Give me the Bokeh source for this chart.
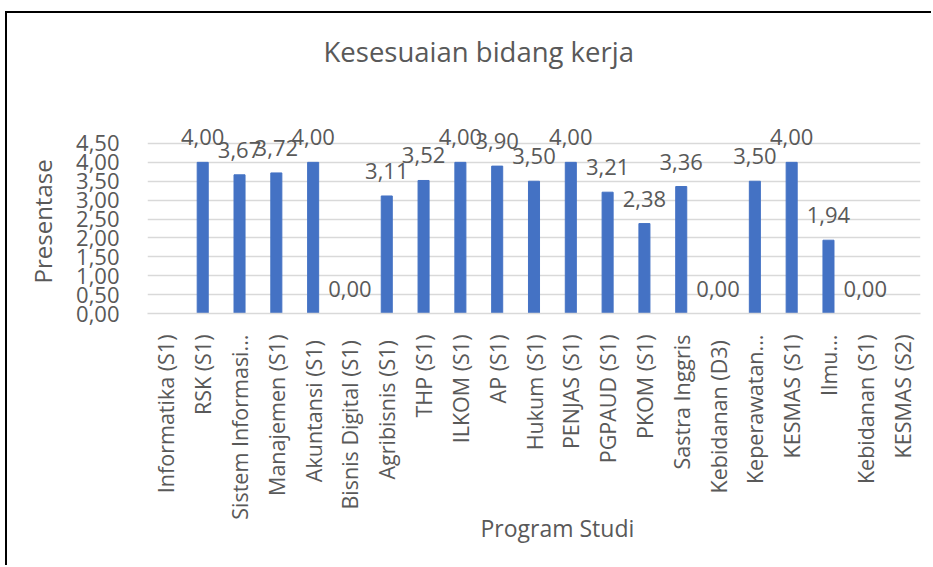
import math
from bokeh.plotting import figure
from bokeh.models import ColumnDataSource, FixedTicker, Title
from bokeh.core.properties import value
from bokeh.embed import file_html
from bokeh.resources import INLINE

categories = ["Informatika (S1)", "RSK (S1)", "Sistem Informasi...", "Manajemen (S1)",
              "Akuntansi  (S1)", "Bisnis Digital  (S1)", "Agribisnis  (S1)", "THP (S1)",
              "ILKOM (S1)", "AP (S1)", "Hukum (S1)", "PENJAS (S1)", "PGPAUD (S1)",
              "PKOM (S1)", "Sastra Inggris", "Kebidanan  (D3)", "Keperawatan...",
              "KESMAS (S1)", "Ilmu...", "Kebidanan (S1)", "KESMAS (S2)"]
values = [float("nan"), 4.00, 3.67, 3.72, 4.00, 0.00, 3.11, 3.52, 4.00, 3.90, 3.50,
          4.00, 3.21, 2.38, 3.36, 0.00, 3.50, 4.00, 1.94, 0.00, float("nan")]
y_ticks = [0.0, 0.5, 1.0, 1.5, 2.0, 2.5, 3.0, 3.5, 4.0, 4.5]
y_tick_labels = ["0,00", "0,50", "1,00", "1,50", "2,00", "2,50", "3,00", "3,50", "4,00", "4,50"]
title_text = "Kesesuaian bidang kerja"
x_title = "Program Studi"
y_title = "Presentase"

FONT = "Open Sans"
GREY = "#595959"

src = ColumnDataSource(dict(cat=categories, val=values))
lab_cats = [c for c, v in zip(categories, values) if not math.isnan(v)]
lab_vals = [v for v in values if not math.isnan(v)]
lab_txt = [f"{v:.2f}".replace(".", ",") for v in lab_vals]
lab_src = ColumnDataSource(dict(cat=lab_cats, val=lab_vals, txt=lab_txt))

# frame extends above the 4,50 gridline so the value labels are not clipped
p = figure(x_range=categories, y_range=(0, 6.06), frame_width=773, frame_height=229,
           output_backend="svg", toolbar_location=None,
           min_border_left=140, min_border_right=11, min_border_top=71, min_border_bottom=252)
p.styles = {"border-left": "2px solid black", "border-top": "2px solid black",
            "margin-left": "5px", "margin-top": "11px"}

p.vbar(x="cat", top="val", width=0.3, source=src, color="#4472C4")
p.text(x="cat", y="val", text="txt", source=lab_src, y_offset=-25,
       text_align="center", text_baseline="middle", text_font_size="22px",
       text_color=GREY, text_font=value(FONT))

p.outline_line_color = None
p.xgrid.grid_line_color = None
p.ygrid.grid_line_color = "#d9d9d9"
p.ygrid.grid_line_width = 1.5

p.yaxis.ticker = FixedTicker(ticks=y_ticks)
p.yaxis.major_label_overrides = {t: l for t, l in zip(y_ticks, y_tick_labels)}
p.yaxis.axis_line_color = None
p.yaxis.major_tick_line_color = None
p.yaxis.minor_tick_line_color = None
p.yaxis.major_label_standoff = 22
p.yaxis.major_label_text_font = FONT
p.yaxis.major_label_text_font_size = "22px"
p.yaxis.major_label_text_color = GREY

p.xaxis.axis_line_color = "#d9d9d9"
p.xaxis.axis_line_width = 1.5
p.xaxis.major_tick_line_color = None
p.xaxis.minor_tick_line_color = None
p.xaxis.major_label_orientation = math.pi / 2
p.xaxis.major_label_standoff = 15
p.xaxis.major_label_text_font = FONT
p.xaxis.major_label_text_font_size = "21.5px"
p.xaxis.major_label_text_color = GREY

p.add_layout(Title(text=title_text, align="left", offset=176, standoff=30,
                   text_font=FONT, text_font_size="27.5px", text_font_style="normal",
                   text_color=GREY), "above")
p.add_layout(Title(text=x_title, align="left", offset=333, standoff=-22, vertical_align="top",
                   text_font=FONT, text_font_size="23px", text_font_style="normal",
                   text_color=GREY), "below")
p.add_layout(Title(text=y_title, align="left", offset=30, standoff=30,
                   text_font=FONT, text_font_size="24px", text_font_style="normal",
                   text_color=GREY), "left")

open("out.html", "w").write(file_html(p, INLINE))
